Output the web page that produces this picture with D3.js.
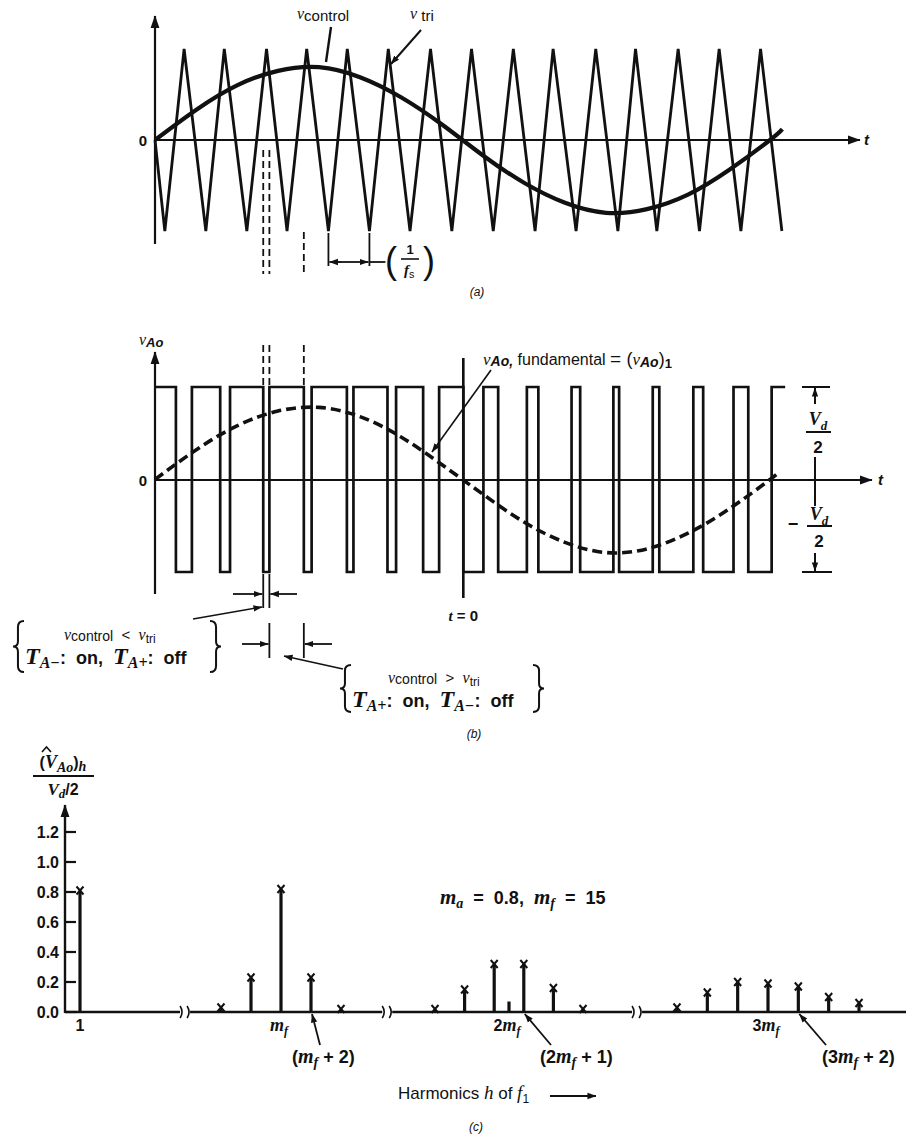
<!DOCTYPE html>
<html><head><meta charset="utf-8">
<script src="https://cdn.jsdelivr.net/npm/d3@7"></script>
<style>
body{margin:0;background:#fff;}
svg{display:block;}
text{font-family:"Liberation Sans",Arial,sans-serif;fill:#111;white-space:pre;}
</style></head><body>
<svg id="c" width="910" height="1142"></svg>
<script>
// ---------------- DATA ----------------
// time axis in carrier periods (m_f = 15 periods per fundamental cycle)
// (a) triangular carrier vertices
const triT = [0, 0.24, 0.71, 1.24, 1.69, 2.24, 2.72, 3.22, 3.70, 4.23, 4.69, 5.23, 5.69, 6.22, 6.72, 7.24, 7.72,
              8.25, 8.74, 9.27, 9.71, 10.27, 10.75, 11.29, 11.72, 12.24, 12.76, 13.28, 13.76, 14.29, 14.77, 15.29];
const triV = [0, -1, 1, -1, 1, -1, 1, -1, 1, -1, 1, -1, 1, -1, 1, -1, 1,
              -1, 1, -1, 1, -1, 1, -1, 1, -1, 1, -1, 1, -1, 1, -1];
// (a) control sine samples
const ctrlT = [0, 1, 2, 3, 4, 5, 6, 7, 8, 9, 10, 11, 12, 13, 14, 15, 15.3];
const ctrlV = [0, 0.33, 0.6, 0.76, 0.8, 0.69, 0.47, 0.17, -0.17, -0.47, -0.69, -0.8, -0.76, -0.6, -0.33, 0, 0.12];
// (b) switching instants of v_Ao (starts high)
const pwmEdges = [0.51, 0.90, 1.59, 1.83, 2.64, 2.79, 3.63, 3.82, 4.68, 4.84, 5.67, 5.88, 6.54, 6.93, 7.52, 8.01,
                  8.37, 9.07, 9.35, 10.16, 10.37, 11.18, 11.32, 12.14, 12.30, 13.13, 13.37, 14.11, 14.47, 15.04];
const pwmEndT = 15.37;
// (b) fundamental component samples
const fundT = [0, 1, 2, 3, 4, 5, 6, 7, 8, 9, 10, 11, 12, 13, 14, 15, 15.2];
const fundV = [0, 0.32, 0.58, 0.74, 0.78, 0.68, 0.46, 0.16, -0.16, -0.46, -0.68, -0.79, -0.75, -0.58, -0.32, 0, 0.08];
// (c) harmonic spectrum
const hOrders = [1, 11, 13, 15, 17, 19, 25, 27, 29, 30, 31, 33, 35, 39, 41, 43, 45, 47, 49, 51];
const hAmps   = [0.81, 0.03, 0.23, 0.82, 0.23, 0.02, 0.02, 0.15, 0.32, 0.07, 0.32, 0.16, 0.02, 0.03, 0.13, 0.2, 0.19, 0.17, 0.1, 0.06];
const hNoMark = [30];
const hBreaks = [8.45, 21.95, 37.3];
const yTicksC = [0, 0.2, 0.4, 0.6, 0.8, 1.0, 1.2];
const yTickLabelsC = ["0.0", "0.2", "0.4", "0.6", "0.8", "1.0", "1.2"];
const hLabelOrders = [1, 15, 30, 45];
const hLabelText = [["1"], ["", "m", "f"], ["2", "m", "f"], ["3", "m", "f"]];

// ---------------- DRAWING ----------------
const svg = d3.select("#c");
const INK = "#111";
const SERIF = "'Liberation Serif','Times New Roman',serif";
const defs = svg.append("defs");
function mk(id, size) {
  defs.append("marker").attr("id", id).attr("viewBox", "0 0 10 10").attr("refX", 9.5).attr("refY", 5)
    .attr("markerWidth", size).attr("markerHeight", size).attr("orient", "auto-start-reverse")
    .attr("markerUnits", "userSpaceOnUse")
    .append("path").attr("d", "M0,1.5 L10,5 L0,8.5 z").attr("fill", INK);
}
mk("arr", 13); mk("arrS", 9);

function ln(g, x1, y1, x2, y2, w, o) {
  o = o || {};
  const l = g.append("line").attr("x1", x1).attr("y1", y1).attr("x2", x2).attr("y2", y2)
    .attr("stroke", INK).attr("stroke-width", w || 2);
  if (o.dash) l.attr("stroke-dasharray", o.dash);
  if (o.end) l.attr("marker-end", "url(#" + o.end + ")");
  if (o.start) l.attr("marker-start", "url(#" + o.start + ")");
  return l;
}
function rich(g, x, y, parts, base) {
  base = base || {};
  const fs = base.fs || 14;
  const t = g.append("text").attr("x", x).attr("y", y).attr("font-size", fs)
    .attr("text-anchor", base.anchor || "start");
  if (base.ff) t.attr("font-family", base.ff);
  if (base.fw) t.attr("font-weight", base.fw);
  if (base.len) t.attr("textLength", base.len).attr("lengthAdjust", "spacing");
  let shift = 0;
  parts.forEach(p => {
    if (typeof p === "string") p = { t: p };
    const target = p.sub ? (p.sd || 0.3) * fs : p.sup ? -0.4 * fs : (p.dy || 0);
    const s = t.append("tspan").text(p.t).attr("dy", target - shift);
    shift = target;
    if (p.i) s.attr("font-style", "italic");
    if (p.fs) s.attr("font-size", p.fs); else if (p.sub || p.sup) s.attr("font-size", fs * 0.72);
    if (p.ff) s.attr("font-family", p.ff);
    if (p.fw) s.attr("font-weight", p.fw);
  });
  return t;
}
function brace(g, x, y1, y2, w) { // w>0: "{" tip at x ; w<0: "}" tip at x
  const ym = (y1 + y2) / 2, h = y2 - y1;
  const d = `M${x + w},${y1} Q${x + w * 0.45},${y1} ${x + w * 0.45},${y1 + h * 0.12} L${x + w * 0.45},${ym - h * 0.1}
    Q${x + w * 0.45},${ym} ${x},${ym} Q${x + w * 0.45},${ym} ${x + w * 0.45},${ym + h * 0.1}
    L${x + w * 0.45},${y2 - h * 0.12} Q${x + w * 0.45},${y2} ${x + w},${y2}`;
  g.append("path").attr("d", d).attr("fill", "none").attr("stroke", INK).attr("stroke-width", 2);
}

const xt = d3.scaleLinear().domain([0, 15]).range([155, 770]);
const ya = d3.scaleLinear().domain([-1, 1]).range([231, 49]);
const yb = d3.scaleLinear().domain([-1, 1]).range([572, 387]);

// ======== Panel (a) ========
const ga = svg.append("g");
ln(ga, 155, 244, 155, 16, 2.2, { end: "arr" });
ln(ga, 155, 140, 860, 140, 2.2, { end: "arr" });
ga.append("text").attr("x", 147).attr("y", 146).attr("text-anchor", "end").attr("font-size", 15).attr("font-weight", "bold").text("0");
rich(ga, 864, 145, [{ t: "t", i: 1 }], { fs: 15, ff: SERIF, fw: "bold" });

const triData = triT.map((t, i) => [t, triV[i]]);
ga.append("path").datum(triData)
  .attr("d", d3.line().x(d => xt(d[0])).y(d => ya(d[1])))
  .attr("fill", "none").attr("stroke", INK).attr("stroke-width", 2.8).attr("stroke-linejoin", "miter");
const ctrlData = ctrlT.map((t, i) => [t, ctrlV[i]]);
ga.append("path").datum(ctrlData)
  .attr("d", d3.line().curve(d3.curveNatural).x(d => xt(d[0])).y(d => ya(d[1])))
  .attr("fill", "none").attr("stroke", INK).attr("stroke-width", 4.2);

rich(ga, 297, 19, [{ t: "v", i: 1, ff: SERIF, fs: 16 }, { t: "control", sub: 1, sd: 0.1, fs: 15 }], { fs: 15 });
rich(ga, 410, 19, [{ t: "v", i: 1, ff: SERIF, fs: 16 }, { t: " tri", sub: 1, sd: 0.1, fs: 15 }], { fs: 15 });
ln(ga, 331, 27, 326, 62, 2.4);
ln(ga, 421, 30, 391, 64, 2, { end: "arrS" });

// dashed guide lines below (a) and above (b)
const guideIdx = [4, 5, 6];
const guideTopA = [150, 150, 232];
guideIdx.forEach((k, j) => {
  const gx = xt(pwmEdges[k]);
  ln(ga, gx, guideTopA[j], gx, 274, 1.8, { dash: "7,4" });
  ln(ga, gx, 345, gx, 385, 1.8, { dash: "7,4" });
});
// 1/fs marker
const pA = xt(4.23), pB = xt(5.23);
ln(ga, pA, 233, pA, 266, 1.8);
ln(ga, pB, 233, pB, 266, 1.8);
ln(ga, pA + 12, 262, pA + 1, 262, 1.8, { end: "arrS" });
ln(ga, pA + 10, 262, pB - 1, 262, 1.8, { end: "arrS" });
ln(ga, pB, 262, pB + 16, 262, 1.8);
ga.append("text").attr("x", 385).attr("y", 273).attr("font-size", 36).attr("font-family", SERIF).text("(");
ga.append("text").attr("x", 423).attr("y", 273).attr("font-size", 36).attr("font-family", SERIF).text(")");
ga.append("text").attr("x", 410).attr("y", 254).attr("text-anchor", "middle").attr("font-size", 13).attr("font-weight", "bold").text("1");
ln(ga, 401, 259, 419, 259, 1.6);
rich(ga, 404, 275, [{ t: "f", i: 1, ff: SERIF, fw: "bold" }, { t: "s", sub: 1, sd: 0.2 }], { fs: 15 });
rich(ga, 477, 296, [{ t: "(a)", i: 1 }], { fs: 12, anchor: "middle" });

// ======== Panel (b) ========
const gb = svg.append("g");
ln(gb, 155, 594, 155, 352, 2.2, { end: "arr" });
ln(gb, 155, 480, 872, 480, 2.2, { end: "arr" });
gb.append("text").attr("x", 147).attr("y", 486).attr("text-anchor", "end").attr("font-size", 15).attr("font-weight", "bold").text("0");
rich(gb, 878, 485, [{ t: "t", i: 1 }], { fs: 15, ff: SERIF, fw: "bold" });
rich(gb, 139, 345, [{ t: "v", i: 1, ff: SERIF, fs: 16 }, { t: "Ao", sub: 1, sd: 0.15, i: 1, fw: "bold", fs: 13 }], { fs: 14 });

let level = 1;
const pwmPts = [[0, level]];
pwmEdges.forEach(e => { level = -level; pwmPts.push([e, level]); });
pwmPts.push([pwmEndT, level]);
gb.append("path").datum(pwmPts)
  .attr("d", d3.line().curve(d3.curveStepAfter).x(d => xt(d[0])).y(d => yb(d[1])))
  .attr("fill", "none").attr("stroke", INK).attr("stroke-width", 2.7).attr("stroke-linejoin", "miter");

const fundData = fundT.map((t, i) => [t, fundV[i]]);
gb.append("path").datum(fundData)
  .attr("d", d3.line().curve(d3.curveNatural).x(d => xt(d[0])).y(d => yb(d[1])))
  .attr("fill", "none").attr("stroke", INK).attr("stroke-width", 3.6).attr("stroke-dasharray", "10,5");

// t = 0 line
const t0x = xt(pwmEdges[14]);
ln(gb, t0x, 358, t0x, 598, 2.6);
rich(gb, t0x, 621, [{ t: "t", i: 1, ff: SERIF, fw: "bold" }, " = 0"], { fs: 15, anchor: "middle", fw: "bold" });

// fundamental label
rich(gb, 483, 365, [{ t: "v", i: 1, ff: SERIF, fs: 17 }, { t: "Ao,", sub: 1, sd: 0.08, i: 1, fs: 14, fw: "bold" },
  { t: " fundamental ", fs: 16 }, { t: "= ", fs: 19 }, { t: "(", fs: 18 },
  { t: "v", i: 1, ff: SERIF, fs: 17 }, { t: "Ao", sub: 1, sd: 0.12, i: 1, fw: "bold", fs: 14 }, { t: ")", fs: 18 },
  { t: "1", sub: 1, sd: 0.2, fs: 13, fw: "bold" }], { fs: 15 });
ln(gb, 491, 370, 432, 452, 1.6, { end: "arrS" });

// Vd/2 dimension
ln(gb, 802, 387, 830, 387, 2);
ln(gb, 802, 572, 832, 572, 2);
ln(gb, 815, 404, 815, 388, 2, { end: "arrS" });
ln(gb, 815, 457, 815, 506, 2);
ln(gb, 815, 553, 815, 571, 2, { end: "arrS" });
ln(gb, 808, 480, 822, 480, 2);
rich(gb, 818, 425, [{ t: "V", i: 1, ff: SERIF, fw: "bold" }, { t: "d", sub: 1, i: 1, ff: SERIF, fw: "bold", sd: 0.25 }], { fs: 18, anchor: "middle" });
ln(gb, 806, 432, 831, 432, 2);
gb.append("text").attr("x", 818).attr("y", 453).attr("text-anchor", "middle").attr("font-size", 17).attr("font-weight", "bold").text("2");
gb.append("text").attr("x", 793).attr("y", 530).attr("text-anchor", "middle").attr("font-size", 18).attr("font-weight", "bold").text("−");
rich(gb, 819, 520, [{ t: "V", i: 1, ff: SERIF, fw: "bold" }, { t: "d", sub: 1, i: 1, ff: SERIF, fw: "bold", sd: 0.25 }], { fs: 18, anchor: "middle" });
ln(gb, 807, 526, 832, 526, 2);
gb.append("text").attr("x", 819).attr("y", 547).attr("text-anchor", "middle").attr("font-size", 17).attr("font-weight", "bold").text("2");

// pulse-width annotation 1 (low pulse)
const e1 = xt(pwmEdges[4]), e2 = xt(pwmEdges[5]), e3 = xt(pwmEdges[6]);
ln(gb, e1, 574, e1, 608, 1.8);
ln(gb, e2, 574, e2, 608, 1.8);
ln(gb, 233, 594, e1 - 1, 594, 1.8, { end: "arrS" });
ln(gb, 297, 594, e2 + 1, 594, 1.8, { end: "arrS" });
ln(gb, 193, 619, 262, 607, 1.6, { end: "arrS" });
// pulse-width annotation 2 (high pulse)
ln(gb, e2, 623, e2, 658, 1.8);
ln(gb, e3, 623, e3, 658, 1.8);
ln(gb, 242, 644, e2 - 1, 644, 1.8, { end: "arrS" });
ln(gb, 332, 644, e3 + 1, 644, 1.8, { end: "arrS" });
ln(gb, 343, 669, 284, 656, 1.6, { end: "arrS" });

// left bracket text
brace(gb, 13, 621, 672, 11);
brace(gb, 221, 621, 672, -11);
rich(gb, 64, 640, [{ t: "v", i: 1, ff: SERIF, fs: 16 }, { t: "control", sub: 1, sd: 0.1, fs: 14 }, { t: "  <  ", fs: 15 },
  { t: "v", i: 1, ff: SERIF, fs: 16 }, { t: "tri", sub: 1, sd: 0.2, fs: 12 }], { fs: 14 });
rich(gb, 25, 664, [{ t: "T", i: 1, ff: SERIF, fw: "bold", fs: 24 }, { t: "A−", sub: 1, sd: 0.2, i: 1, ff: SERIF, fw: "bold", fs: 16 },
  { t: ":  on,  ", fs: 18, fw: "bold" }, { t: "T", i: 1, ff: SERIF, fw: "bold", fs: 24 },
  { t: "A+", sub: 1, sd: 0.2, i: 1, ff: SERIF, fw: "bold", fs: 16 }, { t: ":  off", fs: 18, fw: "bold" }], { fs: 18 });
// right bracket text
brace(gb, 340, 665, 712, 11);
brace(gb, 544, 665, 712, -11);
rich(gb, 388, 683, [{ t: "v", i: 1, ff: SERIF, fs: 16 }, { t: "control", sub: 1, sd: 0.1, fs: 14 }, { t: "  >  ", fs: 15 },
  { t: "v", i: 1, ff: SERIF, fs: 16 }, { t: "tri", sub: 1, sd: 0.2, fs: 12 }], { fs: 14 });
rich(gb, 352, 707, [{ t: "T", i: 1, ff: SERIF, fw: "bold", fs: 24 }, { t: "A+", sub: 1, sd: 0.2, i: 1, ff: SERIF, fw: "bold", fs: 16 },
  { t: ":  on,  ", fs: 18, fw: "bold" }, { t: "T", i: 1, ff: SERIF, fw: "bold", fs: 24 },
  { t: "A−", sub: 1, sd: 0.2, i: 1, ff: SERIF, fw: "bold", fs: 16 }, { t: ":  off", fs: 18, fw: "bold" }], { fs: 18 });
rich(gb, 474, 738, [{ t: "(b)", i: 1 }], { fs: 12, anchor: "middle" });

// ======== Panel (c) ========
const gc = svg.append("g");
const yc = d3.scaleLinear().domain([0, 1.2]).range([1012, 832]);
const xh = d3.scaleLinear().domain([1, 11, 19, 25, 35, 39, 51]).range([80, 221, 341, 435, 583, 677, 859]);
ln(gc, 65, 1013, 65, 805, 2.4, { end: "arr" });
yTicksC.forEach((v, i) => {
  ln(gc, 65, yc(v), 76, yc(v), 2.2);
  gc.append("text").attr("x", 59).attr("y", yc(v) + 6).attr("text-anchor", "end")
    .attr("font-size", 16).attr("font-weight", "bold").text(yTickLabelsC[i]);
});
// baseline with breaks
const bx = hBreaks.map(h => xh(h));
const segs = [65].concat(...bx.map(b => [b - 5, b + 5])).concat([906]);
for (let i = 0; i < segs.length; i += 2) ln(gc, segs[i], 1012, segs[i + 1], 1012, 2.4);
bx.forEach(b => {
  gc.append("path").attr("d", `M${b - 5},1006 Q${b - 1},1012 ${b - 5},1018 M${b + 2},1006 Q${b + 6},1012 ${b + 2},1018`)
    .attr("fill", "none").attr("stroke", INK).attr("stroke-width", 1.6);
});
// harmonic lines
hOrders.forEach((h, i) => {
  const x = xh(h), top = yc(hAmps[i]);
  ln(gc, x, 1012, x, top, 3.2);
  if (hNoMark.indexOf(h) < 0) {
    gc.append("path").attr("d", `M${x - 3.5},${top - 4} L${x + 3.5},${top + 4} M${x + 3.5},${top - 4} L${x - 3.5},${top + 4}`)
      .attr("stroke", INK).attr("stroke-width", 2);
  }
});
// axis label
rich(gc, 63, 768, [{ t: "(", fs: 16 }, { t: "V", i: 1, ff: SERIF, fw: "bold", fs: 18 }, { t: "Ao", sub: 1, sd: 0.25, i: 1, ff: SERIF, fw: "bold", fs: 14 },
  { t: ")", fs: 16 }, { t: "h", sub: 1, sd: 0.2, i: 1, ff: SERIF, fw: "bold", fs: 14 }], { fs: 16, anchor: "middle", fw: "bold" });
gc.append("path").attr("d", "M42,752 L46.5,747 L51,752").attr("fill", "none").attr("stroke", INK).attr("stroke-width", 1.6);
ln(gc, 33, 776, 94, 776, 2);
rich(gc, 63, 795, [{ t: "V", i: 1, ff: SERIF, fw: "bold", fs: 17 }, { t: "d", sub: 1, sd: 0.2, i: 1, ff: SERIF, fw: "bold", fs: 13 },
  { t: "/2", fs: 16, fw: "bold" }], { fs: 16, anchor: "middle" });

// harmonic tick labels
hLabelOrders.forEach((h, i) => {
  const p = hLabelText[i];
  const parts = [{ t: p[0], fw: "bold" }];
  if (p[1]) { parts.push({ t: p[1], i: 1, ff: SERIF, fw: "bold", fs: 18 }); parts.push({ t: p[2], sub: 1, sd: 0.22, i: 1, ff: SERIF, fw: "bold", fs: 12 }); }
  rich(gc, xh(h) + (i === 0 ? 0 : -2), 1031, parts, { fs: 16, anchor: "middle" });
});
rich(gc, 440, 904, [{ t: "m", i: 1, ff: SERIF, fw: "bold", fs: 21 }, { t: "a", sub: 1, sd: 0.2, i: 1, ff: SERIF, fs: 14, fw: "bold" },
  { t: "  =  0.8,  ", fw: "bold" }, { t: "m", i: 1, ff: SERIF, fw: "bold", fs: 21 }, { t: "f", sub: 1, sd: 0.2, i: 1, ff: SERIF, fs: 14, fw: "bold" },
  { t: "  =  15", fw: "bold" }], { fs: 18 });

function callout(h, lx, ly) {
  ln(gc, lx, ly, xh(h) + 1, 1014, 1.8, { end: "arrS" });
}
callout(17, 320, 1045);
rich(gc, 292, 1063, [{ t: "(", fw: "bold" }, { t: "m", i: 1, ff: SERIF, fw: "bold", fs: 20 }, { t: "f", sub: 1, sd: 0.22, i: 1, ff: SERIF, fs: 14, fw: "bold" },
  { t: " + 2)", fw: "bold" }], { fs: 18 });
callout(31, 551, 1045);
rich(gc, 540, 1063, [{ t: "(2", fw: "bold" }, { t: "m", i: 1, ff: SERIF, fw: "bold", fs: 20 }, { t: "f", sub: 1, sd: 0.22, i: 1, ff: SERIF, fs: 14, fw: "bold" },
  { t: " + 1)", fw: "bold" }], { fs: 18 });
callout(47, 826, 1045);
rich(gc, 822, 1063, [{ t: "(3", fw: "bold" }, { t: "m", i: 1, ff: SERIF, fw: "bold", fs: 20 }, { t: "f", sub: 1, sd: 0.22, i: 1, ff: SERIF, fs: 14, fw: "bold" },
  { t: " + 2)", fw: "bold" }], { fs: 18 });

rich(gc, 398, 1099, ["Harmonics ", { t: "h", i: 1, ff: SERIF, fs: 19 }, " of ", { t: "f", i: 1, ff: SERIF, fs: 19 },
  { t: "1", sub: 1, sd: 0.25, fs: 12 }], { fs: 17 });
ln(gc, 550, 1096, 596, 1096, 1.8, { end: "arrS" });
rich(gc, 476, 1131, [{ t: "(c)", i: 1 }], { fs: 12, anchor: "middle" });
</script>
</body></html>
